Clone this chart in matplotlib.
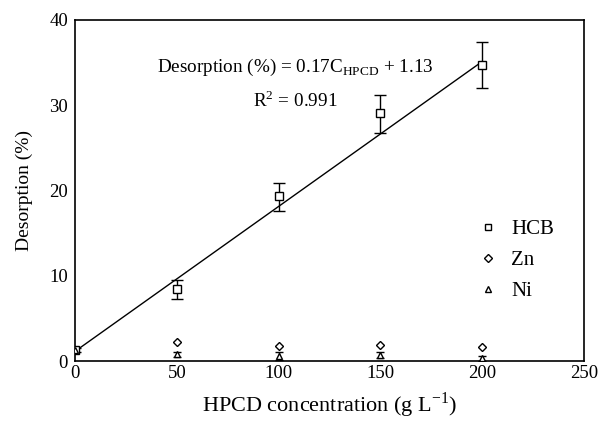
import numpy as np
import matplotlib
matplotlib.use('Agg')
import matplotlib.pyplot as plt
from matplotlib.lines import Line2D

conc = [0, 50, 100, 150, 200]
hcb = [1.3, 8.5, 19.3, 29.1, 34.7]
hcb_err_lo = [0.2, 1.2, 1.7, 2.4, 2.7]
hcb_err_hi = [0.2, 1.0, 1.6, 2.1, 2.7]
zn = [1.3, 2.2, 1.8, 1.9, 1.7]
ni = [1.3, 0.8, 0.6, 0.7, 0.3]
ni_err = [0.1, 0.3, 0.5, 0.4, 0.3]
fit_slope, fit_icpt = 0.17, 1.13

plt.rcParams['font.family'] = ['Liberation Serif', 'DejaVu Serif']
plt.rcParams['mathtext.fontset'] = 'custom'
plt.rcParams['mathtext.rm'] = 'Liberation Serif'

fig = plt.figure(figsize=(6, 4.22), dpi=100)
ax = fig.add_axes([75/600, 1 - 361/422, 509/600, 341/422])

fx = np.array([0, 200])
ax.plot(fx, fit_slope * fx + fit_icpt, color='black', lw=1.0, zorder=2)

ax.errorbar(conc, hcb, yerr=[hcb_err_lo, hcb_err_hi], fmt='s', mfc='white', mec='black',
            ms=5.5, mew=1, ecolor='black', elinewidth=1, capsize=4, zorder=3)
ax.plot(conc, zn, 'D', mfc='white', mec='black', ms=4.5, mew=1, zorder=3)
ax.errorbar(conc, ni, yerr=ni_err, fmt='^', mfc='white', mec='black', ms=5, mew=1,
            ecolor='black', elinewidth=1, capsize=3, zorder=3)

ax.set_xlim(0, 250)
ax.set_ylim(0, 40)
ax.set_xticks([0, 50, 100, 150, 200, 250])
ax.set_yticks([0, 10, 20, 30, 40])
ax.tick_params(axis='x', length=0, pad=3, labelsize=13.5)
ax.tick_params(axis='y', length=0, pad=5, labelsize=13.5)
for s in ax.spines.values():
    s.set_linewidth(1.2)

ax.set_xlabel('HPCD concentration (g L$^{-1}$)', fontsize=16, labelpad=6)
ax.set_ylabel('Desorption (%)', fontsize=14, labelpad=12)

ax.text(0.432, 0.86, 'Desorption (%) = 0.17C$_{\\mathrm{HPCD}}$ + 1.13', transform=ax.transAxes,
        ha='center', va='center', fontsize=13.8)
ax.text(0.432, 0.765, 'R$^{2}$ = 0.991', transform=ax.transAxes, ha='center', va='center',
        fontsize=13.8)

handles = [Line2D([], [], ls='none', marker='s', mfc='white', mec='black', ms=5, mew=1),
           Line2D([], [], ls='none', marker='D', mfc='white', mec='black', ms=4.5, mew=1),
           Line2D([], [], ls='none', marker='^', mfc='white', mec='black', ms=5, mew=1)]
ax.legend(handles, ['HCB', 'Zn', 'Ni'], loc='upper left', bbox_to_anchor=(0.755, 0.47),
          frameon=False, fontsize=15, handletextpad=0.6, labelspacing=0.55, handlelength=1.0)

fig.savefig('out.png', dpi=100)
